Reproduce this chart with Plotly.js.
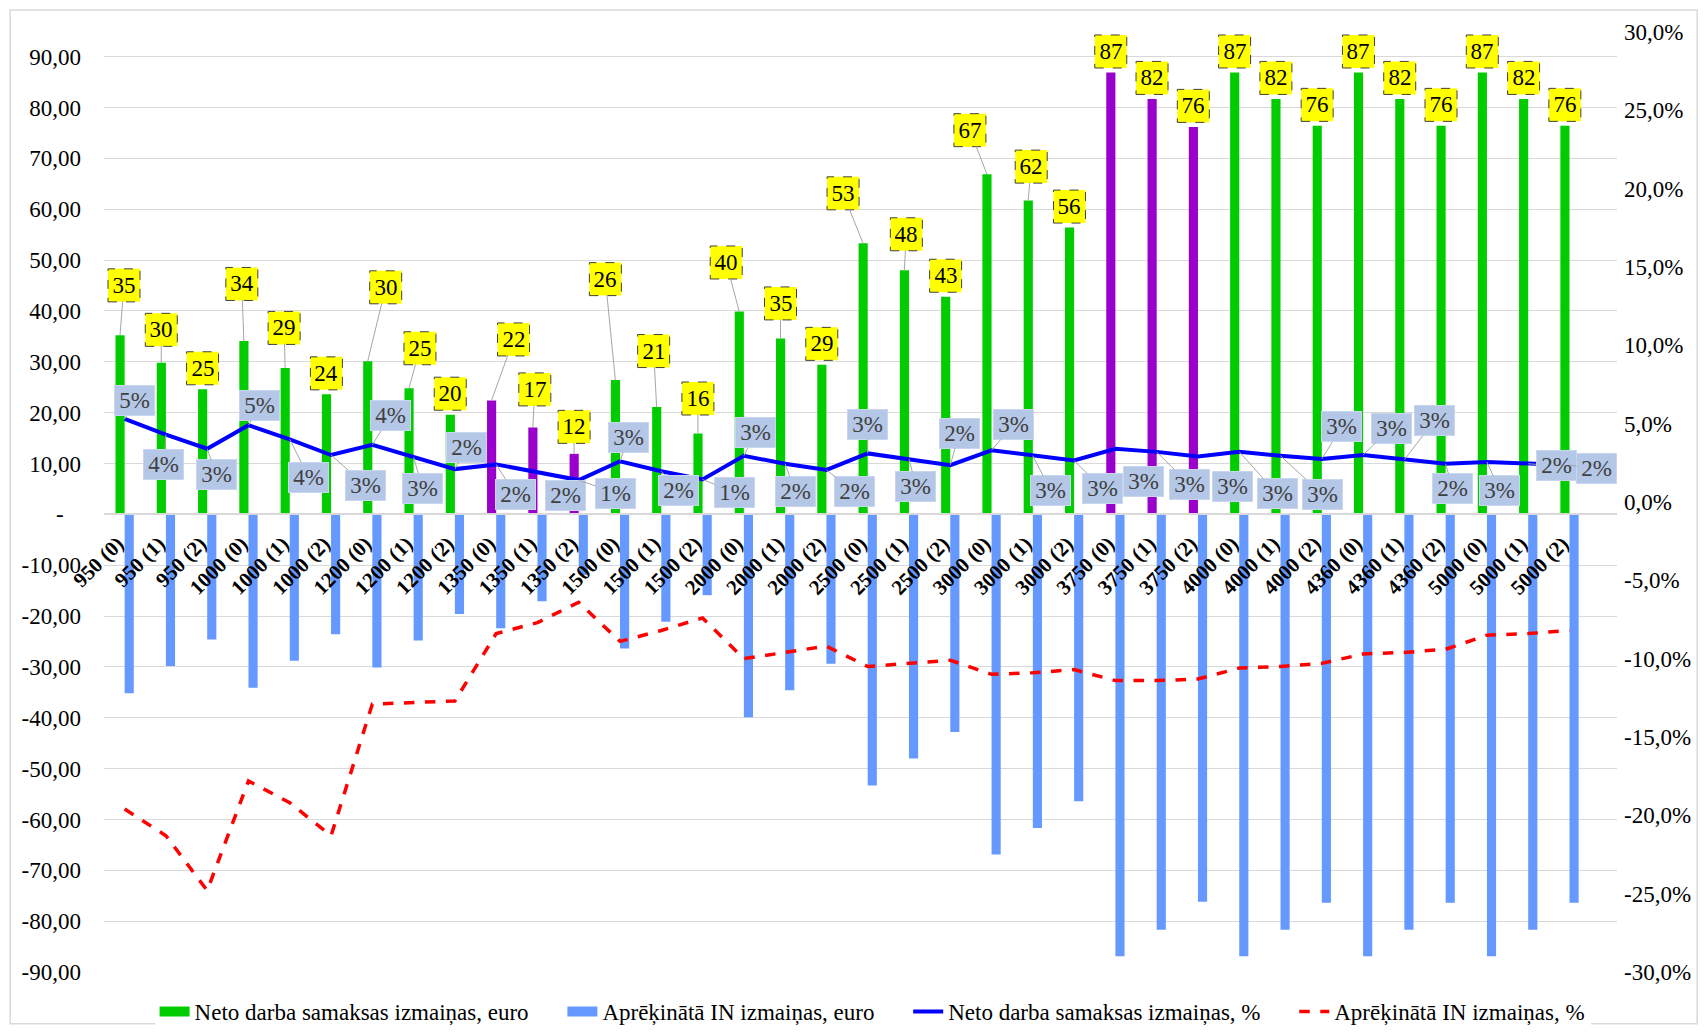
<!DOCTYPE html>
<html>
<head>
<meta charset="utf-8">
<script src="https://cdn.plot.ly/plotly-3.0.1.min.js"></script>
<style>
  html, body { margin: 0; padding: 0; background: #fff; }
  #chart { width: 1707px; height: 1033px; }
</style>
</head>
<body>
<div id="chart"></div>
<script>
// --- data ------------------------------------------------------------------
const categories = [
  '950 (0)', '950 (1)', '950 (2)', '1000 (0)', '1000 (1)', '1000 (2)',
  '1200 (0)', '1200 (1)', '1200 (2)', '1350 (0)', '1350 (1)', '1350 (2)',
  '1500 (0)', '1500 (1)', '1500 (2)', '2000 (0)', '2000 (1)', '2000 (2)',
  '2500 (0)', '2500 (1)', '2500 (2)', '3000 (0)', '3000 (1)', '3000 (2)',
  '3750 (0)', '3750 (1)', '3750 (2)', '4000 (0)', '4000 (1)', '4000 (2)',
  '4360 (0)', '4360 (1)', '4360 (2)', '5000 (0)', '5000 (1)', '5000 (2)'
];

// Neto darba samaksas izmaiņas, euro
const netoEuro = [
  35.2, 29.8, 24.6, 34.1, 28.8, 23.6, 30.1, 24.8, 19.6, 22.4, 17.1, 11.9,
  26.4, 21.1, 15.9, 39.9, 34.6, 29.4, 53.3, 48.0, 42.8, 66.9, 61.7, 56.4,
  86.9, 81.7, 76.2, 86.9, 81.7, 76.4, 86.9, 81.7, 76.4, 86.9, 81.7, 76.4
];

// Aprēķinātā IN izmaiņas, euro
const inEuro = [
  -35.2, -29.8, -24.6, -34.1, -28.8, -23.6, -30.1, -24.8, -19.6, -22.4, -17.1, -11.9,
  -26.4, -21.1, -15.9, -39.9, -34.6, -29.4, -53.3, -48.0, -42.8, -66.9, -61.7, -56.4,
  -86.9, -81.7, -76.2, -86.9, -81.7, -76.4, -86.9, -81.7, -76.4, -86.9, -81.7, -76.4
];

// Neto darba samaksas izmaiņas, %
const netoPct = [
  0.053, 0.043, 0.034, 0.049, 0.040, 0.030, 0.0365, 0.0285, 0.021, 0.024, 0.019, 0.014,
  0.026, 0.0196, 0.0144, 0.0295, 0.0244, 0.0205, 0.031, 0.0275, 0.0235, 0.033, 0.0295, 0.0265,
  0.034, 0.032, 0.029, 0.032, 0.0295, 0.0275, 0.030, 0.027, 0.0244, 0.0256, 0.0244, 0.0235
];

// Aprēķinātā IN izmaiņas, %
const inPct = [
  -0.196, -0.213, -0.248, -0.178, -0.192, -0.213, -0.129, -0.128, -0.127, -0.084, -0.077, -0.064,
  -0.089, -0.082, -0.074, -0.100, -0.096, -0.092, -0.105, -0.103, -0.101, -0.110, -0.109, -0.107,
  -0.114, -0.114, -0.113, -0.106, -0.105, -0.103, -0.097, -0.096, -0.094, -0.085, -0.084, -0.082
];

// groups drawn in purple instead of green
const purpleGroups = ['1350', '3750'];

const leftTicks = [-90, -80, -70, -60, -50, -40, -30, -20, -10, 0, 10, 20, 30, 40, 50, 60, 70, 80, 90];
const rightTicks = [-0.30, -0.25, -0.20, -0.15, -0.10, -0.05, 0, 0.05, 0.10, 0.15, 0.20, 0.25, 0.30];

// --- label placement (pixel offsets of the label box from its point) -------
const euroLabelOffset = [
  [4, -50], [0, -33], [0, -21], [-2, -57], [-1, -40], [0, -21],
  [18, -74], [11, -40], [0, -21], [22, -61], [2, -38], [0, -27],
  [-10, -101], [-3, -56], [0, -35], [-13, -49], [0, -35], [0, -21],
  [-20, -50], [2, -36], [0, -21], [-17, -44], [3, -34], [0, -21],
  [0, -21], [0, -21], [0, -21], [0, -21], [0, -21], [0, -21],
  [0, -21], [0, -21], [0, -21], [0, -21], [0, -21], [0, -21]
];
const pctLabelOffset = [
  [10, -18], [-2, 30], [9, 26], [11, -20], [19, 38], [34, 30],
  [18, -29], [9, 31], [12, -22], [19, 30], [28, 23], [37, 13],
  [8, -24], [17, 19], [32, 13], [12, -23], [10, 28], [28, 22],
  [0, -29], [7, 28], [9, -32], [22, -26], [18, 35], [28, 28],
  [28, 33], [33, 33], [35, 30], [38, 42], [42, 39], [20, -32],
  [28, -27], [30, -39], [7, 25], [13, 29], [28, 2], [27, 3]
];

const FONT = 'Liberation Serif';
const GREEN = '#00CC00';
const PURPLE = '#9900CC';
const BLUE_BAR = '#6699FF';
const BAR_SHIFT = -4.65;   // green bar sits left of the category centre
const PAD = '\u00a0'.repeat(5);

const greenColors = categories.map(c =>
  purpleGroups.includes(c.split(' ')[0]) ? PURPLE : GREEN);

const traces = [
  {
    type: 'bar', name: 'Neto darba samaksas izmaiņas, euro',
    x: categories, y: netoEuro,
    marker: { color: greenColors },
    showlegend: false, hoverinfo: 'skip'
  },
  {
    type: 'bar', name: 'Aprēķinātā IN izmaiņas, euro',
    x: categories, y: inEuro,
    marker: { color: BLUE_BAR },
    showlegend: false, hoverinfo: 'skip'
  },
  // legend-only swatches, so the bar keys look like Excel's wide blocks
  {
    type: 'scatter', mode: 'lines', name: 'Neto darba samaksas izmaiņas, euro' + PAD,
    x: [null], y: [null], line: { color: GREEN, width: 11 }, hoverinfo: 'skip'
  },
  {
    type: 'scatter', mode: 'lines', name: 'Aprēķinātā IN izmaiņas, euro' + PAD,
    x: [null], y: [null], line: { color: BLUE_BAR, width: 11 }, hoverinfo: 'skip'
  },
  {
    type: 'scatter', mode: 'lines', name: 'Neto darba samaksas izmaiņas, %' + PAD,
    x: categories, y: netoPct, yaxis: 'y2',
    line: { color: '#0000FF', width: 4 },
    hoverinfo: 'skip'
  },
  {
    type: 'scatter', mode: 'lines', name: 'Aprēķinātā IN izmaiņas, %',
    x: categories, y: inPct, yaxis: 'y2',
    line: { color: '#FF0000', width: 3.5, dash: 'dash' },
    hoverinfo: 'skip'
  }
];

const annotations = [];
const shapes = [
  // outer chart border
  {
    type: 'rect', xref: 'paper', yref: 'paper',
    x0: -0.062, x1: 1.053, y0: -0.055, y1: 1.0235,
    line: { color: '#D9D9D9', width: 1.5 }, layer: 'below'
  }
];

categories.forEach((c, i) => {
  const v = netoEuro[i];
  const [dx, dy] = euroLabelOffset[i];
  const leader = dy < -24 || Math.abs(dx) > 6;
  shapes.push({
    type: 'rect', xref: 'x', yref: 'y',
    xsizemode: 'pixel', ysizemode: 'pixel',
    xanchor: i, yanchor: v,
    x0: dx + BAR_SHIFT - 16, x1: dx + BAR_SHIFT + 16,
    y0: -dy - 16.5, y1: -dy + 16.5,
    fillcolor: '#FFFF00',
    line: { color: '#404040', width: 1, dash: 'dash' },
    layer: 'above'
  });
  annotations.push({
    x: i, y: v, xref: 'x', yref: 'y',
    text: String(Math.round(v)),
    showarrow: true, ax: dx, ay: dy, xshift: BAR_SHIFT,
    arrowhead: 0, arrowwidth: 1,
    arrowcolor: leader ? '#A6A6A6' : 'rgba(0,0,0,0)',
    width: 30, height: 31, borderpad: 0,
    font: { family: FONT, size: 23, color: '#000000' }
  });

  const p = netoPct[i];
  const [px, py] = pctLabelOffset[i];
  annotations.push({
    x: i, y: p, xref: 'x', yref: 'y2',
    text: Math.round(p * 100) + '%',
    showarrow: true, ax: px, ay: py,
    arrowhead: 0, arrowwidth: 1, arrowcolor: '#A6A6A6',
    bgcolor: '#B4C7E7', bordercolor: '#C9D6EE', borderwidth: 1,
    width: 39, height: 29, borderpad: 0,
    font: { family: FONT, size: 23, color: '#404040' }
  });
});

const leftRange = [-90, 94.86];

const layout = {
  width: 1707, height: 1033, autosize: false,
  paper_bgcolor: '#FFFFFF', plot_bgcolor: '#FFFFFF',
  margin: { l: 104, r: 90, t: 32, b: 61, autoexpand: false },
  font: { family: FONT, size: 23, color: '#000000' },
  barmode: 'group', bargap: 0.557, bargroupgap: 0,
  hovermode: false,
  showlegend: true,
  legend: {
    orientation: 'h', x: 0.508, xanchor: 'center', y: -0.042, yanchor: 'middle',
    font: { family: FONT, size: 23, color: '#000000' },
    traceorder: 'normal'
  },
  xaxis: {
    type: 'category',
    anchor: 'free',
    position: (0 - leftRange[0]) / (leftRange[1] - leftRange[0]),
    showline: true, linecolor: '#D9D9D9', linewidth: 1.5,
    showgrid: false, zeroline: false, ticks: '',
    tickangle: -45,
    ticklabelstandoff: 8,
    ticklabelshift: -7,
    tickfont: { family: FONT, size: 21, color: '#000000', weight: 'bold' }
  },
  yaxis: {
    range: leftRange,
    tickvals: leftTicks,
    ticktext: leftTicks.map(v => v === 0 ? '-\u00a0\u00a0\u00a0' : v.toFixed(2).replace('.', ',')),
    showgrid: true, gridcolor: '#D9D9D9', gridwidth: 1.3,
    zeroline: true, zerolinecolor: '#D9D9D9', zerolinewidth: 1.5,
    showline: false, ticks: '',
    ticklabelstandoff: 22,
    tickfont: { family: FONT, size: 23, color: '#000000' }
  },
  yaxis2: {
    overlaying: 'y', side: 'right', anchor: 'x',
    range: [-0.30, 0.30],
    tickvals: rightTicks,
    ticktext: rightTicks.map(v => (v * 100).toFixed(1).replace('.', ',') + '%'),
    showgrid: false, zeroline: false, showline: false, ticks: '',
    ticklabelstandoff: 6,
    tickfont: { family: FONT, size: 23, color: '#000000' }
  },
  shapes: shapes,
  annotations: annotations
};

Plotly.newPlot('chart', traces, layout, { displayModeBar: false, responsive: false });
</script>
</body>
</html>
